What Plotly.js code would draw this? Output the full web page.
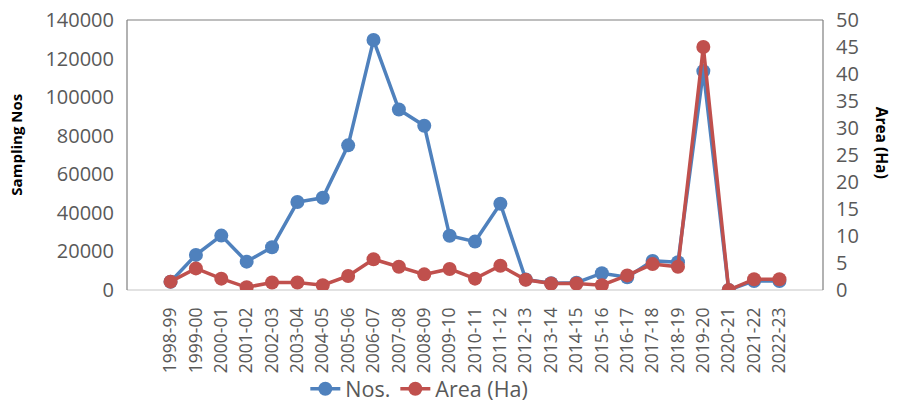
<!DOCTYPE html>
<html>
<head>
<meta charset="utf-8">
<script src="https://cdn.plot.ly/plotly-3.0.1.min.js"></script>
<style>html,body{margin:0;padding:0;background:#fff;}#chart{width:898px;height:405px;}</style>
</head>
<body>
<div id="chart"></div>
<script>
const years = ["1998-99","1999-00","2000-01","2001-02","2002-03","2003-04","2004-05","2005-06","2006-07","2007-08","2008-09","2009-10","2010-11","2011-12","2012-13","2013-14","2014-15","2015-16","2016-17","2017-18","2018-19","2019-20","2020-21","2021-22","2022-23"];
const nos = [4300,18200,28200,14700,22200,45600,47800,75000,129600,93600,85200,28100,25100,44700,5500,3500,3800,8700,6600,15100,14400,113500,0,4700,4700];
const area = [1.55,4.0,2.1,0.5,1.4,1.4,0.9,2.6,5.7,4.3,2.9,3.9,2.1,4.5,1.9,1.2,1.2,0.9,2.7,4.8,4.3,45.0,0,2.0,2.0];
const yTicks = [0,20000,40000,60000,80000,100000,120000,140000];
const y2Ticks = [0,5,10,15,20,25,30,35,40,45,50];

const blue = "#4F81BD", red = "#C0504D";
const font = "Open Sans, Lato, sans-serif";
const data = [
  {x: years, y: nos, name: "Nos.", type: "scatter", mode: "lines+markers",
   line: {color: blue, width: 3.5}, marker: {color: blue, size: 14}, yaxis: "y"},
  {x: years, y: area, name: "Area (Ha)", type: "scatter", mode: "lines+markers",
   line: {color: red, width: 3.5}, marker: {color: red, size: 14}, yaxis: "y2"}
];
const layout = {
  width: 898, height: 405,
  margin: {l: 127, r: 75, t: 20, b: 115},
  paper_bgcolor: "#fff", plot_bgcolor: "#fff",
  font: {family: font, color: "#595959"},
  showlegend: true,
  legend: {orientation: "h", xref: "container", yref: "container", x: 0.34, xanchor: "left", y: 0.04, yanchor: "middle",
           bgcolor: "rgba(0,0,0,0)",
           font: {size: 21.5, color: "#595959", family: font}, traceorder: "normal", tracegroupgap: 0},
  xaxis: {type: "category", tickangle: -90, tickfont: {size: 17.5, color: "#595959"}, automargin: false,
          showgrid: false, zeroline: false, showline: false, ticks: "", ticklabelstandoff: 13},
  yaxis: {range: [0, 140000], tickvals: yTicks, ticktext: yTicks.map(String), automargin: false,
          showgrid: false, zeroline: false, showline: false, ticks: "",
          tickfont: {size: 20, color: "#595959"}, ticklabelstandoff: 12},
  yaxis2: {range: [0, 50], tickvals: y2Ticks, ticktext: y2Ticks.map(String), overlaying: "y", side: "right", automargin: false,
          showgrid: false, zeroline: false, showline: false, ticks: "",
          tickfont: {size: 20, color: "#595959"}, ticklabelstandoff: 12},
  shapes: [
    {type: "line", xref: "paper", yref: "paper", x0: 0, x1: 1, y0: 0, y1: 0, line: {color: "#d9d9d9", width: 1.5}, layer: "below"},
    {type: "line", xref: "paper", yref: "paper", x0: 0, x1: 0, y0: 0, y1: 1, line: {color: "#7f7f7f", width: 1.2}, layer: "below"},
    {type: "line", xref: "paper", yref: "paper", x0: 1, x1: 1, y0: 0, y1: 1, line: {color: "#7f7f7f", width: 1.2}, layer: "below"},
    {type: "line", xref: "paper", yref: "paper", x0: 0, x1: 1, y0: 1, y1: 1, line: {color: "#7f7f7f", width: 1.2}, layer: "below"}
  ],
  annotations: [
    {text: "<b>Sampling Nos</b>", xref: "paper", yref: "paper", x: -0.16, xanchor: "center", y: 0.537, yanchor: "middle", textangle: -90,
     showarrow: false, font: {size: 15, color: "#000", family: font}},
    {text: "<b>Area (Ha)</b>", xref: "paper", yref: "paper", x: 1.085, xanchor: "center", y: 0.545, yanchor: "middle", textangle: 90,
     showarrow: false, font: {size: 15.5, color: "#000", family: font}}
  ]
};
Plotly.newPlot("chart", data, layout, {displayModeBar: false, responsive: false});
</script>
</body>
</html>
